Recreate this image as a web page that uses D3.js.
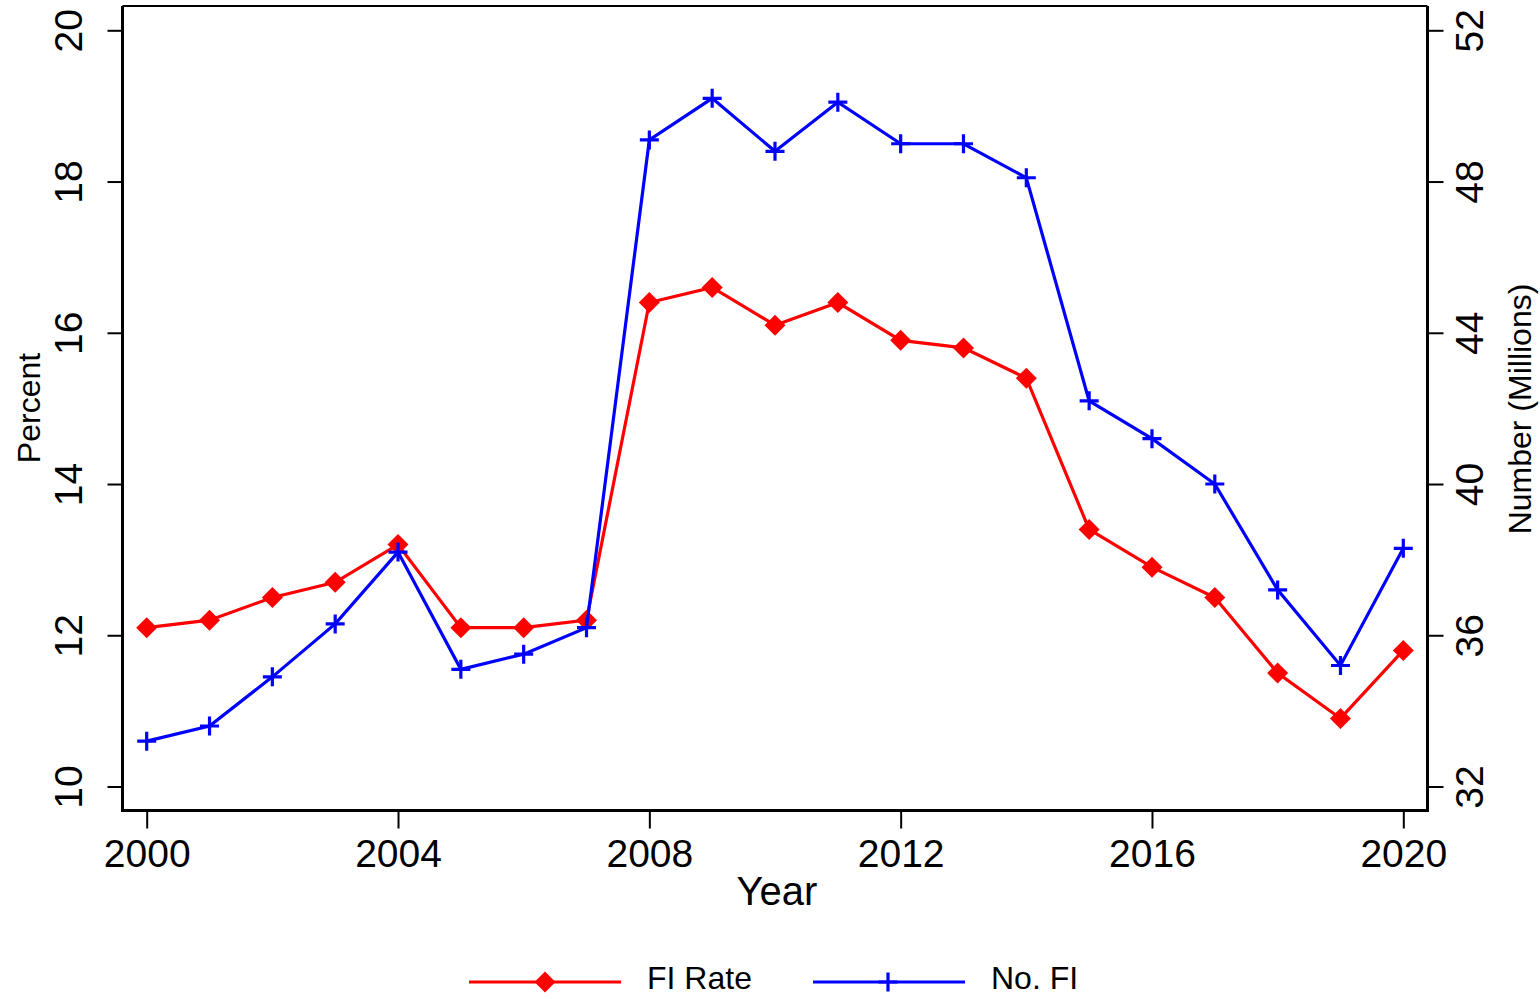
<!DOCTYPE html>
<html>
<head>
<meta charset="utf-8">
<script src="https://cdn.jsdelivr.net/npm/d3@7"></script>
<style>
  html, body { margin: 0; padding: 0; background: #fff; }
  #chart { width: 1540px; height: 999px; }
  text { font-family: "Liberation Sans", Arial, Helvetica, sans-serif; fill: #000; }
</style>
</head>
<body>
<div id="chart"></div>
<script>
const years = d3.range(2000, 2021);
const fiRate = [12.1, 12.2, 12.5, 12.7, 13.2, 12.1, 12.1, 12.2, 16.4, 16.6, 16.1,
                16.4, 15.9, 15.8, 15.4, 13.4, 12.9, 12.5, 11.5, 10.9, 11.8];
const noFI = [33.2, 33.6, 34.9, 36.3, 38.2, 35.1, 35.5, 36.2, 49.1, 50.2, 48.8,
              50.1, 49.0, 49.0, 48.1, 42.2, 41.2, 40.0, 37.2, 35.2, 38.3];
const xTicks = [2000, 2004, 2008, 2012, 2016, 2020];
const leftTicks = [10, 12, 14, 16, 18, 20];
const rightTicks = [32, 36, 40, 44, 48, 52];

function drawChart(width, height) {
  const plot = { left: 122.5, right: 1427.5, top: 6, bottom: 810.5 };

  const svg = d3.select("#chart")
    .append("svg")
    .attr("width", width)
    .attr("height", height)
    .attr("viewBox", `0 0 ${width} ${height}`);

  const xScale = d3.scaleLinear().domain([2000, 2020]).range([146.7, 1403.3]);
  const yLeft = d3.scaleLinear().domain([10, 20]).range([786.5, 30.3]);
  const yRight = d3.scaleLinear().domain([32, 52]).range([786.5, 30.3]);

  // plot frame top
  svg.append("line")
    .attr("x1", plot.left).attr("x2", plot.right)
    .attr("y1", plot.top).attr("y2", plot.top)
    .attr("stroke", "#000").attr("stroke-width", 2);

  // left axis
  const gl = svg.append("g")
    .attr("transform", `translate(${plot.left},0)`)
    .call(d3.axisLeft(yLeft).tickValues(leftTicks).tickSize(15).tickSizeOuter(0));
  gl.select(".domain").attr("d", `M0,${plot.top}V${plot.bottom}`).attr("stroke-width", 3);
  gl.selectAll(".tick line").attr("stroke-width", 2);
  gl.selectAll(".tick text")
    .attr("transform", "rotate(-90)")
    .attr("x", 0).attr("y", -40.5).attr("dy", 0)
    .attr("text-anchor", "middle")
    .style("font-size", "39px");

  // right axis
  const gr = svg.append("g")
    .attr("transform", `translate(${plot.right},0)`)
    .call(d3.axisRight(yRight).tickValues(rightTicks).tickSize(16).tickSizeOuter(0));
  gr.select(".domain").attr("d", `M0,${plot.top}V${plot.bottom}`).attr("stroke-width", 3);
  gr.selectAll(".tick line").attr("stroke-width", 2);
  gr.selectAll(".tick text")
    .attr("transform", "rotate(-90)")
    .attr("x", 0).attr("y", 55.5).attr("dy", 0)
    .attr("text-anchor", "middle")
    .style("font-size", "39px");

  // bottom axis
  const gb = svg.append("g")
    .attr("transform", `translate(0,${plot.bottom})`)
    .call(d3.axisBottom(xScale).tickValues(xTicks).tickFormat(d3.format("d")).tickSize(18).tickSizeOuter(0));
  gb.select(".domain").attr("d", `M${plot.left - 1.5},0H${plot.right + 1.5}`).attr("stroke-width", 3);
  gb.selectAll(".tick line").attr("stroke-width", 2);
  gb.selectAll(".tick text")
    .attr("y", 56.5).attr("dy", 0)
    .style("font-size", "39px");

  svg.selectAll(".tick text").attr("fill", "#000").style("font-family", null);
  svg.selectAll(".tick line, .domain").attr("stroke", "#000");

  // axis titles
  svg.append("text")
    .attr("x", 777).attr("y", 905)
    .attr("text-anchor", "middle")
    .style("font-size", "40px")
    .text("Year");

  svg.append("text")
    .attr("transform", "translate(40,408) rotate(-90)")
    .attr("text-anchor", "middle")
    .style("font-size", "32px")
    .text("Percent");

  svg.append("text")
    .attr("transform", "translate(1531,409) rotate(-90)")
    .attr("text-anchor", "middle")
    .style("font-size", "32px")
    .text("Number (Millions)");

  const rateData = years.map((y, i) => ({ year: y, value: fiRate[i] }));
  const numData = years.map((y, i) => ({ year: y, value: noFI[i] }));

  const diamond = s => `M0,${-s}L${s},0L0,${s}L${-s},0Z`;
  const plus = s => `M${-s},0H${s}M0,${-s}V${s}`;

  // FI Rate series
  svg.append("path")
    .datum(rateData)
    .attr("fill", "none")
    .attr("stroke", "#ff0000")
    .attr("stroke-width", 3.2)
    .attr("d", d3.line().x(d => xScale(d.year)).y(d => yLeft(d.value)));

  svg.append("g")
    .selectAll("path")
    .data(rateData)
    .enter()
    .append("path")
    .attr("transform", d => `translate(${xScale(d.year)},${yLeft(d.value)})`)
    .attr("d", diamond(10.5))
    .attr("fill", "#ff0000");

  // No. FI series
  svg.append("path")
    .datum(numData)
    .attr("fill", "none")
    .attr("stroke", "#0000ff")
    .attr("stroke-width", 3.2)
    .attr("d", d3.line().x(d => xScale(d.year)).y(d => yRight(d.value)));

  svg.append("g")
    .selectAll("path")
    .data(numData)
    .enter()
    .append("path")
    .attr("transform", d => `translate(${xScale(d.year)},${yRight(d.value)})`)
    .attr("d", plus(9.5))
    .attr("fill", "none")
    .attr("stroke", "#0000ff")
    .attr("stroke-width", 3.2);

  // legend
  const legend = svg.append("g");
  legend.append("line")
    .attr("x1", 469).attr("x2", 621).attr("y1", 982).attr("y2", 982)
    .attr("stroke", "#ff0000").attr("stroke-width", 3.2);
  legend.append("path")
    .attr("transform", "translate(545,982)")
    .attr("d", diamond(10.5))
    .attr("fill", "#ff0000");
  legend.append("text")
    .attr("x", 647).attr("y", 989)
    .style("font-size", "32px")
    .text("FI Rate");

  legend.append("line")
    .attr("x1", 813).attr("x2", 965).attr("y1", 982).attr("y2", 982)
    .attr("stroke", "#0000ff").attr("stroke-width", 3.2);
  legend.append("path")
    .attr("transform", "translate(888,982)")
    .attr("d", plus(9.5))
    .attr("stroke", "#0000ff").attr("stroke-width", 3.2);
  legend.append("text")
    .attr("x", 991).attr("y", 989)
    .style("font-size", "32px")
    .text("No. FI");
}

drawChart(1540, 999);
</script>
</body>
</html>
